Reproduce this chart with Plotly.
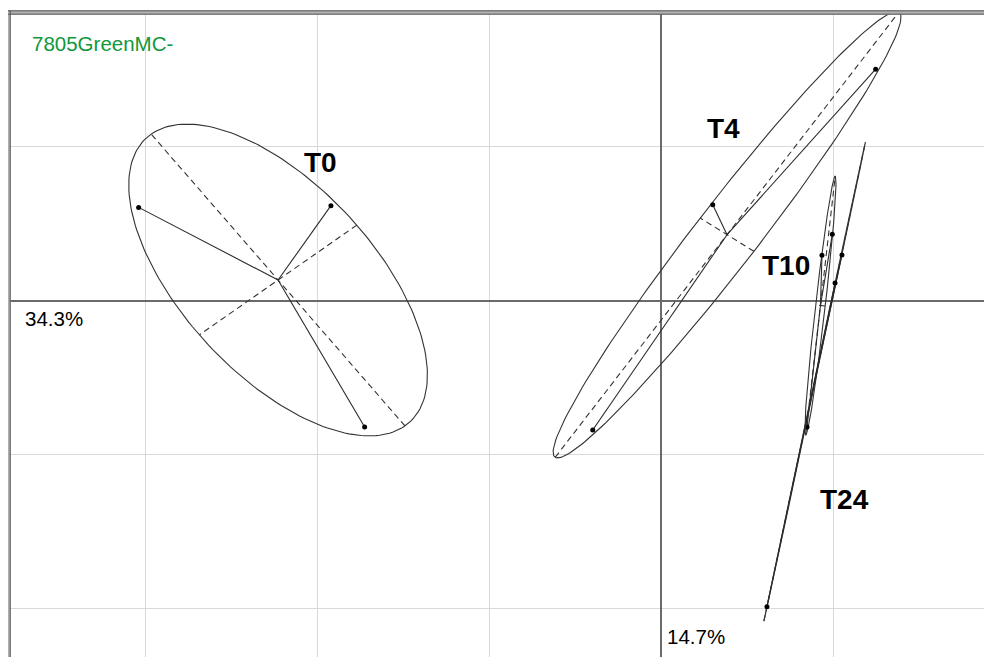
import numpy as np
import plotly.graph_objects as go

# Coordenadas de las muestras en los dos primeros ejes (unidad = 1 celda de la rejilla)
grupos = ["T0", "T4", "T10", "T24"]
muestra_grupo = ["T0", "T0", "T0", "T4", "T4", "T4", "T10", "T10", "T10", "T24", "T24", "T24"]
eje1 = [-3.037, -1.919, -1.723, 0.301, 1.248, -0.397, 0.996, 0.936, 0.849, 1.052, 1.012, 0.616]
eje2 = [0.606, 0.617, -0.820, 0.623, 1.503, -0.840, 0.431, 0.295, -0.820, 0.297, 0.115, -1.988]

inercia_eje1 = "34.3%"
inercia_eje2 = "14.7%"
titulo = "7805GreenMC-"

# Posicion de las etiquetas de grupo (no estan en el centro)
pos_etiqueta = {"T0": (-1.977, 0.897), "T4": (0.366, 1.117),
                "T10": (0.724, 0.229), "T24": (1.064, -1.294)}

BODY = 8                      # margen del <body> de la pagina
W, H = 992 - BODY, 657 - BODY
ML, MT = 10 - BODY, 14 - BODY
PW, PH = W - ML, H - MT

gris = "#333333"
fig = go.Figure()

x_all = np.array(eje1)
y_all = np.array(eje2)
g_all = np.array(muestra_grupo)

for g in grupos:
    xs = x_all[g_all == g]
    ys = y_all[g_all == g]
    cx, cy = xs.mean(), ys.mean()
    cov = np.cov(np.vstack([xs, ys]), bias=True)
    vals, vecs = np.linalg.eigh(cov)
    vals = np.clip(vals, 0, None)
    # eigh: orden ascendente
    v_min, v_max = vecs[:, 0], vecs[:, 1]
    a = 1.5 * np.sqrt(vals[1])
    b = 1.5 * np.sqrt(vals[0])
    t = np.linspace(0, 2 * np.pi, 200)
    ex = cx + a * np.cos(t) * v_max[0] + b * np.sin(t) * v_min[0]
    ey = cy + a * np.cos(t) * v_max[1] + b * np.sin(t) * v_min[1]
    fig.add_trace(go.Scatter(x=ex, y=ey, mode="lines",
                             line=dict(color=gris, width=1.1), hoverinfo="skip"))
    # ejes de la elipse
    for v, r in [(v_max, a), (v_min, b)]:
        fig.add_trace(go.Scatter(x=[cx - r * v[0], cx + r * v[0]],
                                 y=[cy - r * v[1], cy + r * v[1]], mode="lines",
                                 line=dict(color="#333333", width=1.1, dash="6px,4px"),
                                 hoverinfo="skip"))
    # estrella
    sx, sy = [], []
    for x, y in zip(xs, ys):
        sx += [cx, x, None]
        sy += [cy, y, None]
    fig.add_trace(go.Scatter(x=sx, y=sy, mode="lines",
                             line=dict(color="#2a2a2a", width=1.1), hoverinfo="skip"))
    fig.add_trace(go.Scatter(x=xs, y=ys, mode="markers",
                             marker=dict(color="black", size=5), name=g))

for g in grupos:
    fig.add_annotation(x=pos_etiqueta[g][0], y=pos_etiqueta[g][1], text="<b>%s</b>" % g,
                       showarrow=False, font=dict(size=28, color="black"))


def px_x(p):
    # pixel de la pagina -> coordenada paper
    return (p - BODY - ML) / PW


def px_y(p):
    return 1 - (p - BODY - MT) / PH


fig.add_annotation(xref="paper", yref="paper", x=px_x(30), y=px_y(43.5),
                   xanchor="left", yanchor="middle", text=titulo, showarrow=False,
                   font=dict(size=20.5, color="#10983a"))
fig.add_annotation(xref="paper", yref="y", x=px_x(23), y=0, yshift=-4,
                   xanchor="left", yanchor="top", text=inercia_eje1, showarrow=False,
                   font=dict(size=20.5, color="black"))
fig.add_annotation(xref="x", yref="paper", x=0, y=px_y(650), xshift=4,
                   xanchor="left", yanchor="bottom", text=inercia_eje2, showarrow=False,
                   font=dict(size=20.5, color="black"))

# marco doble (izquierda y arriba)
fig.add_shape(type="line", xref="paper", yref="paper", x0=px_x(8.5), x1=px_x(8.5),
              y0=-0.1, y1=px_y(10.5), line=dict(color="#b0b0b0", width=4))
fig.add_shape(type="line", xref="paper", yref="paper", x0=px_x(6.5), x1=1.1,
              y0=px_y(12.5), y1=px_y(12.5), line=dict(color="#b0b0b0", width=4))
for p in [6.8, 10.2]:
    fig.add_shape(type="line", xref="paper", yref="paper", x0=px_x(p), x1=px_x(p),
                  y0=-0.1, y1=px_y(10.5), line=dict(color="#555555", width=1))
for p in [10.8, 14.2]:
    fig.add_shape(type="line", xref="paper", yref="paper", x0=px_x(6.5), x1=1.1,
                  y0=px_y(p), y1=px_y(p), line=dict(color="#555555", width=1))

# origen y unidad de la rejilla en pixeles de la pagina
x0_px, y0_px = 661, 300.7
unit_x, unit_y = 172, 154
left_px, top_px = BODY + ML, BODY + MT
right_px, bottom_px = BODY + W, BODY + H

fig.update_layout(
    width=W, height=H,
    margin=dict(l=ML, r=0, t=MT, b=0),
    paper_bgcolor="white", plot_bgcolor="white",
    showlegend=False,
    font=dict(family="Arial, Liberation Sans, sans-serif"),
    xaxis=dict(range=[(left_px - x0_px) / unit_x, (right_px - x0_px) / unit_x],
               dtick=1, tick0=0, showgrid=True, gridcolor="#d9d9d9", gridwidth=1,
               zeroline=True, zerolinecolor="#6a6a6a", zerolinewidth=1.6,
               showticklabels=False, ticks="", fixedrange=True),
    yaxis=dict(range=[(y0_px - bottom_px) / unit_y, (y0_px - top_px) / unit_y],
               dtick=1, tick0=0, showgrid=True, gridcolor="#d9d9d9", gridwidth=1,
               zeroline=True, zerolinecolor="#6a6a6a", zerolinewidth=1.6,
               showticklabels=False, ticks="", fixedrange=True),
)

fig.write_html("out.html")
